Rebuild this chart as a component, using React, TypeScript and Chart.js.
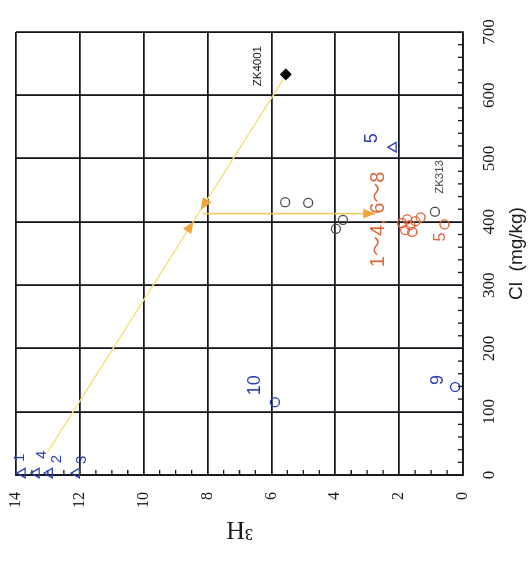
import { useEffect, useRef } from "react";
import { Chart, registerables } from "chart.js";

Chart.register(...registerables);

// ---------- data (Cl in mg/kg, 3H in TU) ----------
const CL_MIN = 0;
const CL_MAX = 700;
const CL_STEP = 100;
const H3_MIN = 0;
const H3_MAX = 14;
const H3_STEP = 2;

// blue open triangles (samples 1, 4, 2, 3, 5)
const triCl = [3, 3, 3, 3, 518];
const triH3 = [13.8, 13.36, 12.95, 12.1, 2.18];

// blue open circles (samples 9, 10)
const blueCl = [139, 115];
const blueH3 = [0.25, 5.89];

// grey open circles (last one is ZK313)
const greyCl = [431, 430, 403, 389, 416];
const greyH3 = [5.57, 4.85, 3.76, 3.98, 0.88];

// orange open circles (samples 1~4, 6~8 and 5)
const orangeCl = [398, 387, 404, 395, 384, 401, 407, 396];
const orangeH3 = [1.91, 1.81, 1.75, 1.65, 1.59, 1.49, 1.33, 0.58];

// ZK4001 (filled diamond)
const zkCl = [633];
const zkH3 = [5.55];

// mixing line and the vertical arrow line
const mixCl = [37, 633];
const mixH3 = [13.0, 5.53];
const arrowLineCl = [413, 413];
const arrowLineH3 = [8.15, 2.75];

// arrowheads: from -> tip
const arrowFromCl = [633, 37, 413];
const arrowFromH3 = [5.53, 13.0, 8.15];
const arrowTipCl = [419, 401, 413];
const arrowTipH3 = [8.21, 8.44, 2.75];

// text notes
const noteText = ["ZK4001", "ZK313", "1～4, 6～8", "5", "5", "9", "10", "1", "4", "2", "3"];
const noteCl = [646, 471, 404, 532, 376, 150, 142, 27, 32, 25, 24];
const noteH3 = [6.42, 0.72, 2.66, 2.85, 0.7, 0.78, 6.5, 13.87, 13.19, 12.72, 11.93];
const noteKind = ["zk", "zkg", "orangeBig", "blue", "orange", "blue", "blue", "blueSmall", "blueSmall", "blueSmall", "blueSmall"];

// ---------- styles ----------
const GRID = "#15171f";
const BLUE = "#2a3db3";
const ORANGE = "#e0643a";
const GREY = "#4a4a4a";
const NOTE_STYLE: Record<string, { color: string; font: string }> = {
  zk: { color: "#111111", font: "11.5px 'Liberation Sans'" },
  zkg: { color: "#3b463b", font: "11.5px 'Liberation Sans'" },
  orangeBig: { color: ORANGE, font: "20px 'Liberation Sans', 'Noto Sans CJK SC'" },
  orange: { color: ORANGE, font: "16px 'Liberation Sans'" },
  blue: { color: BLUE, font: "18px 'Liberation Sans'" },
  blueSmall: { color: BLUE, font: "15px 'Liberation Sans'" },
};

const pts = (xs: number[], ys: number[]) => xs.map((x, i) => ({ x, y: ys[i] }));

const overlay = {
  id: "overlay",
  beforeDatasetsDraw(chart: any) {
    const { ctx, chartArea, scales } = chart;
    const xs = scales.x;
    const ys = scales.y;
    ctx.save();
    ctx.strokeStyle = GRID;
    ctx.lineWidth = 1.3;
    ctx.beginPath();
    for (let v = CL_MIN; v <= CL_MAX; v += 20) {
      if (v % CL_STEP === 0) continue;
      const px = xs.getPixelForValue(v);
      ctx.moveTo(px, chartArea.bottom);
      ctx.lineTo(px, chartArea.bottom - 5);
    }
    for (let v = H3_MIN; v <= H3_MAX; v += 0.5) {
      if (v % H3_STEP === 0) continue;
      const py = ys.getPixelForValue(v);
      ctx.moveTo(chartArea.left, py);
      ctx.lineTo(chartArea.left + 5, py);
    }
    ctx.stroke();
    ctx.restore();
  },
  afterDatasetsDraw(chart: any) {
    const { ctx, scales } = chart;
    const xs = scales.x;
    const ys = scales.y;
    ctx.save();
    // arrowheads
    ctx.fillStyle = "#f0a23c";
    for (let i = 0; i < arrowTipCl.length; i++) {
      const fx = xs.getPixelForValue(arrowFromCl[i]);
      const fy = ys.getPixelForValue(arrowFromH3[i]);
      const tx = xs.getPixelForValue(arrowTipCl[i]);
      const ty = ys.getPixelForValue(arrowTipH3[i]);
      const a = Math.atan2(ty - fy, tx - fx);
      const L = 12;
      const W = 5;
      const bx = tx - L * Math.cos(a);
      const by = ty - L * Math.sin(a);
      ctx.beginPath();
      ctx.moveTo(tx, ty);
      ctx.lineTo(bx + W * Math.sin(a), by - W * Math.cos(a));
      ctx.lineTo(bx - W * Math.sin(a), by + W * Math.cos(a));
      ctx.closePath();
      ctx.fill();
    }
    // notes
    ctx.textAlign = "center";
    ctx.textBaseline = "middle";
    for (let i = 0; i < noteText.length; i++) {
      const st = NOTE_STYLE[noteKind[i]];
      ctx.fillStyle = st.color;
      ctx.font = st.font;
      ctx.fillText(noteText[i], xs.getPixelForValue(noteCl[i]), ys.getPixelForValue(noteH3[i]));
    }
    ctx.restore();
  },
};

export default function App() {
  const ref = useRef<HTMLCanvasElement | null>(null);

  useEffect(() => {
    if (!ref.current) return;
    const openPt = (color: string, style: string, r: number) => ({
      pointStyle: style,
      pointRadius: r,
      pointBorderColor: color,
      pointBackgroundColor: "rgba(0,0,0,0)",
      pointBorderWidth: 1.3,
      showLine: false,
      clip: false,
      order: 1,
    });
    const chart = new Chart(ref.current, {
      type: "scatter",
      data: {
        datasets: [
          { label: "blue triangles", data: pts(triCl, triH3), ...openPt(BLUE, "triangle", 5.5) } as any,
          { label: "blue circles", data: pts(blueCl, blueH3), ...openPt(BLUE, "circle", 4.5) } as any,
          { label: "grey circles", data: pts(greyCl, greyH3), ...openPt(GREY, "circle", 4.5) } as any,
          { label: "orange circles", data: pts(orangeCl, orangeH3), ...openPt(ORANGE, "circle", 4.5) } as any,
          {
            label: "ZK4001",
            data: pts(zkCl, zkH3),
            pointStyle: "rectRot",
            pointRadius: 5.5,
            pointBackgroundColor: "#000",
            pointBorderColor: "#000",
            showLine: false,
            clip: false,
            order: 0,
          } as any,
          {
            label: "mixing",
            data: pts(mixCl, mixH3),
            showLine: true,
            borderColor: "#f6e27e",
            borderWidth: 1.5,
            pointRadius: 0,
            order: 5,
          } as any,
          {
            label: "arrow",
            data: pts(arrowLineCl, arrowLineH3),
            showLine: true,
            borderColor: "#f3c561",
            borderWidth: 1.5,
            pointRadius: 0,
            order: 5,
          } as any,
        ],
      },
      options: {
        responsive: false,
        animation: false,
        devicePixelRatio: 1,
        layout: { padding: { left: 0, top: 16, right: 32, bottom: 0 } },
        plugins: { legend: { display: false }, tooltip: { enabled: false } },
        scales: {
          x: {
            type: "linear",
            position: "bottom",
            min: CL_MIN,
            max: CL_MAX,
            ticks: {
              stepSize: CL_STEP,
              padding: 16,
              maxRotation: 0,
              autoSkip: false,
              color: "#1a1a1a",
              font: { family: "'Liberation Serif'", size: 17 },
            },
            grid: { color: GRID, lineWidth: 1.8, drawTicks: false },
            border: { color: GRID, width: 1.8 },
            title: {
              display: true,
              text: "Cl  (mg/kg)",
              color: "#1a1a1a",
              font: { family: "'Liberation Sans'", size: 19 },
              padding: { top: 0, bottom: 4 },
            },
            afterFit(s: any) {
              s.height = 69;
            },
          },
          y: {
            type: "linear",
            position: "left",
            min: H3_MIN,
            max: H3_MAX,
            ticks: {
              stepSize: H3_STEP,
              padding: 17,
              color: "#1a1a1a",
              font: { family: "'Liberation Serif'", size: 16 },
            },
            grid: { color: GRID, lineWidth: 1.8, drawTicks: false },
            border: { color: GRID, width: 1.8 },
            title: {
              display: true,
              text: "³H",
              color: "#1a1a1a",
              font: { family: "'Liberation Serif'", size: 26 },
              padding: { top: 18, bottom: 0 },
            },
            afterFit(s: any) {
              s.width = 87;
              s.paddingTop = 0;
              s.paddingBottom = 0;
            },
          },
        },
      } as any,
      plugins: [overlay],
    });
    return () => chart.destroy();
  }, []);

  return (
    <div style={{ position: "absolute", left: 0, top: 0, width: 532, height: 562, overflow: "hidden", background: "#fff" }}>
      <div
        style={{
          position: "absolute",
          left: 0,
          top: 0,
          width: 562,
          height: 532,
          transformOrigin: "0 0",
          transform: "translateY(562px) rotate(-90deg)",
        }}
      >
        <canvas ref={ref} width={562} height={532} style={{ display: "block" }} />
      </div>
    </div>
  );
}
